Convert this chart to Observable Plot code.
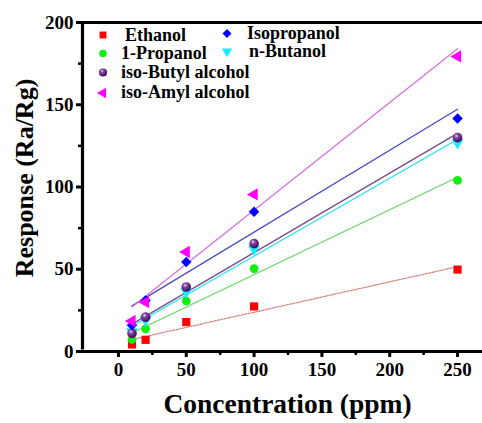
<!DOCTYPE html>
<html><head><meta charset="utf-8">
<script src="https://cdn.jsdelivr.net/npm/d3@7"></script>
<script src="https://cdn.jsdelivr.net/npm/@observablehq/plot@0.6"></script>
<style>body{margin:0;background:#fff} #chart svg{display:block}</style>
</head><body><div id="chart"></div>
<script>
// ---- data ----
const concentrations = [10, 20, 50, 100, 250];
const seriesNames = ["Ethanol", "Isopropanol", "1-Propanol", "n-Butanol", "iso-Butyl alcohol", "iso-Amyl alcohol"];
const ethanol     = [4.3, 7.1, 17.9, 27.4, 49.8];
const isopropanol = [16, 31, 54.4, 84.9, 141.6];
const propanol1   = [7.3, 13.8, 30.7, 50.4, 104];
const nButanol    = [12, 19, 36.5, 62.4, 127];
const isoButyl    = [11, 20.9, 39.2, 65.6, 130];
const isoAmyl     = [18.5, 30, 60.5, 95.5, 179.4];
const seriesValues = [ethanol, isopropanol, propanol1, nButanol, isoButyl, isoAmyl];

const xTicks = [0, 50, 100, 150, 200, 250];
const xMinorTicks = [25, 75, 125, 175, 225];
const yTicks = [0, 50, 100, 150, 200];
const yMinorTicks = [25, 75, 125, 175];
const xDomain = [-26.5, 268.4];
const yDomain = [0, 200];
const xLabel = "Concentration (ppm)";
const yLabel = "Response (Ra/Rg)";

// ---- styles ----
const serif = "'Times New Roman', 'Liberation Serif', serif";
const seriesStyle = {
  "Ethanol":           {fill: "#ff0000", line: "#d08888", symbol: "square",   rotate: 0,   r: 4.6, dash: "2,1.5"},
  "Isopropanol":       {fill: "#0000ff", line: "#4a4ac4", symbol: "square",   rotate: 45,  r: 4.2, dash: null},
  "1-Propanol":        {fill: "#11ee11", line: "#66d866", symbol: "circle",   rotate: 0,   r: 4.4, dash: null},
  "n-Butanol":         {fill: "#11eeff", line: "#44e4ee", symbol: "triangle", rotate: 180, r: 4.4, dash: null},
  "iso-Butyl alcohol": {fill: "url(#ball)", line: "#7a4a8c", symbol: "circle", rotate: 0,  r: 4.8, dash: null},
  "iso-Amyl alcohol":  {fill: "#ff00ff", line: "#d870e0", symbol: "triangle", rotate: -90, r: 4.6, dash: null}
};

const rows = seriesNames.flatMap((name, i) =>
  concentrations.map((c, j) => ({series: name, x: c, y: seriesValues[i][j]})));

const lineOrder = ["Ethanol", "1-Propanol", "n-Butanol", "iso-Butyl alcohol", "Isopropanol", "iso-Amyl alcohol"];

const marks = [];
for (const name of lineOrder) {
  const s = seriesStyle[name];
  marks.push(Plot.linearRegressionY(rows.filter(d => d.series === name), {
    x: "x", y: "y", ci: 0, stroke: s.line, strokeWidth: 1.3,
    strokeDasharray: s.dash || undefined
  }));
}
for (const name of lineOrder) {
  const s = seriesStyle[name];
  marks.push(Plot.dot(rows.filter(d => d.series === name), {
    x: "x", y: "y", symbol: () => s.symbol, fill: s.fill, r: s.r, rotate: s.rotate, stroke: "none"
  }));
}
// frame lines (left, bottom, top)
marks.push(Plot.ruleY([yDomain[0]], {stroke: "#000", strokeWidth: 3.2}));
marks.push(Plot.ruleY([yDomain[1]], {stroke: "#000", strokeWidth: 3.2}));
marks.push(Plot.ruleX([xDomain[0]], {y1: yDomain[0], y2: yDomain[1], stroke: "#000", strokeWidth: 3.2, insetBottom: -1.6, insetTop: -1.6}));
// axes
marks.push(Plot.axisX(xTicks, {tickSize: 6, tickPadding: 5, strokeWidth: 3, fontSize: 19, fontWeight: "bold", fontFamily: serif, label: null, fill: "#000"}));
marks.push(Plot.axisX(xMinorTicks, {tickSize: 4, tickFormat: () => "", strokeWidth: 2.5, label: null}));
marks.push(Plot.axisY(yTicks, {tickSize: 6, tickPadding: 3, strokeWidth: 3, fontSize: 19, fontWeight: "bold", fontFamily: serif, label: null, fill: "#000"}));
marks.push(Plot.axisY(yMinorTicks, {tickSize: 4, tickFormat: () => "", strokeWidth: 2.5, label: null}));
// axis titles
marks.push(Plot.text([xLabel], {frameAnchor: "bottom", textAnchor: "middle", dx: 5, dy: 61, fontSize: 27.5, fontWeight: "bold", fontFamily: serif, fill: "#000"}));
marks.push(Plot.text([yLabel], {frameAnchor: "left", textAnchor: "middle", rotate: -90, dx: -58, dy: -9, fontSize: 26, fontWeight: "bold", fontFamily: serif, fill: "#000"}));

const chart = Plot.plot({
  width: 482, height: 423,
  marginLeft: 82, marginRight: 0, marginTop: 22, marginBottom: 72,
  x: {domain: xDomain, label: null},
  y: {domain: yDomain, label: null},
  style: {background: "#fff", color: "#000", fontFamily: serif, overflow: "visible"},
  marks
});

const svg = d3.select(chart);
const defs = svg.insert("defs", ":first-child");
const grad = defs.append("radialGradient").attr("id", "ball").attr("cx", "38%").attr("cy", "32%").attr("r", "65%");
grad.append("stop").attr("offset", "0%").attr("stop-color", "#f2e4f8");
grad.append("stop").attr("offset", "30%").attr("stop-color", "#8a4aa8");
grad.append("stop").attr("offset", "100%").attr("stop-color", "#3c0858");

// legend (layout positions only)
const legendItems = [
  {name: "Ethanol",           mx: 103, my: 35,   tx: 125, ty: 41},
  {name: "Isopropanol",       mx: 227, my: 33.5, tx: 247, ty: 38.5},
  {name: "1-Propanol",        mx: 103, my: 53.5, tx: 121, ty: 58.5},
  {name: "n-Butanol",         mx: 227, my: 51.5, tx: 249, ty: 56.5},
  {name: "iso-Butyl alcohol", mx: 103, my: 72.5, tx: 121, ty: 77.5},
  {name: "iso-Amyl alcohol",  mx: 103, my: 93,   tx: 121, ty: 98}
];
const symMap = {square: d3.symbolSquare, circle: d3.symbolCircle, triangle: d3.symbolTriangle};
const lg = svg.append("g").attr("text-anchor", "start");
for (const it of legendItems) {
  const s = seriesStyle[it.name];
  const size = Math.PI * (s.r * 0.85) ** 2;
  lg.append("path")
    .attr("d", d3.symbol(symMap[s.symbol], size)())
    .attr("transform", `translate(${it.mx},${it.my}) rotate(${s.rotate})`)
    .attr("fill", s.fill);
  lg.append("text").attr("x", it.tx).attr("y", it.ty)
    .attr("text-anchor", "start")
    .attr("font-family", serif).attr("font-weight", "bold").attr("font-size", 18)
    .attr("fill", "#000").text(it.name);
}

document.getElementById("chart").appendChild(chart);
</script>
</body></html>
